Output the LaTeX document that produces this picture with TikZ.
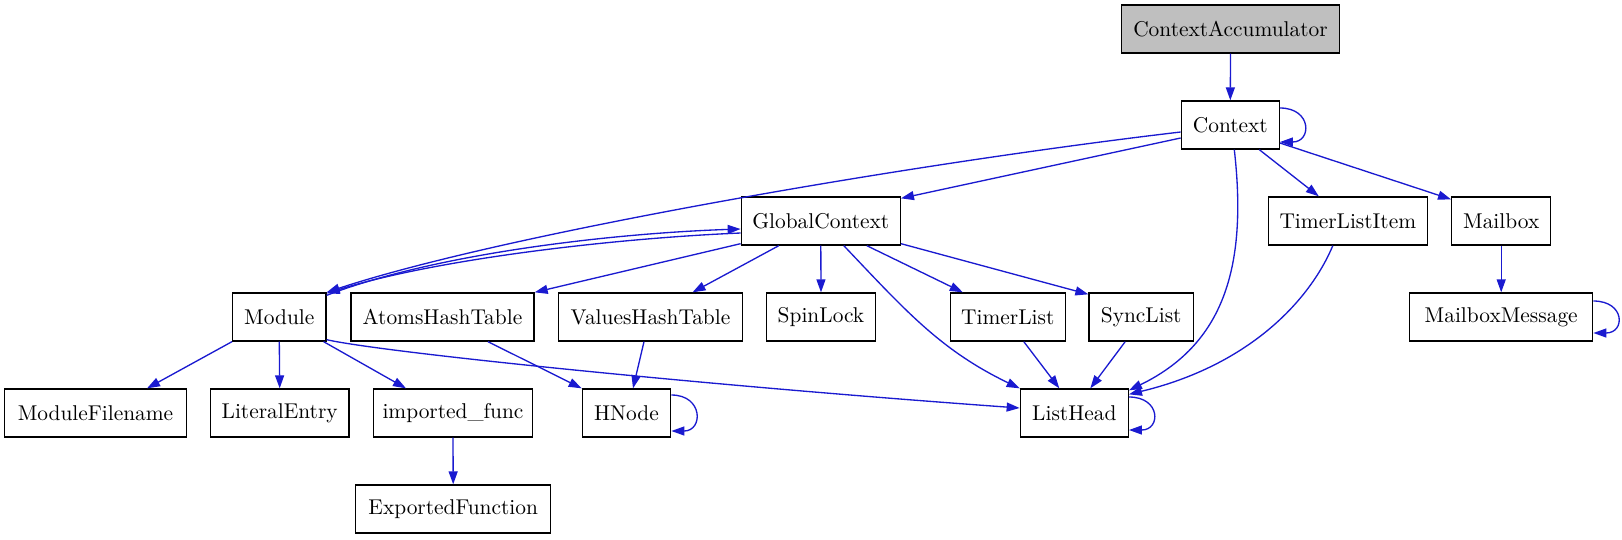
\documentclass[tikz,border=0pt]{standalone}
\usetikzlibrary{arrows.meta}
\definecolor{edgeblue}{RGB}{26,26,208}
\definecolor{fillgray}{RGB}{191,191,191}
\newcommand{\lbl}[1]{\scalebox{2.14}{#1}}
\begin{document}
\begin{tikzpicture}[x=1pt,y=-1pt,
  box/.style={draw=black,line width=1.33pt,minimum height=48pt,inner sep=0pt,font=\fontsize{10}{12}\selectfont},
  link/.style={draw=edgeblue,line width=1.33pt,-{Triangle[length=13pt,width=9pt]}},
]
\useasboundingbox (0,0) rectangle (1622,539);
% nodes
\node[box,fill=fillgray,minimum width=217.6pt] (ca) at (1230.5,29) {\lbl{ContextAccumulator}};
\node[box,minimum width=98pt] (ctx) at (1230.3,125) {\lbl{Context}};
\node[box,minimum width=159pt] (gc) at (820.8,221) {\lbl{GlobalContext}};
\node[box,minimum width=159pt] (tli) at (1347.8,221) {\lbl{TimerListItem}};
\node[box,minimum width=99pt] (mb) at (1501.2,221) {\lbl{Mailbox}};
\node[box,minimum width=93.3pt] (module) at (279.3,317) {\lbl{Module}};
\node[box,minimum width=183pt] (atoms) at (442.5,317) {\lbl{AtomsHashTable}};
\node[box,minimum width=184.4pt] (values) at (650.5,317) {\lbl{ValuesHashTable}};
\node[box,minimum width=109.4pt] (spin) at (821,317) {\lbl{SpinLock}};
\node[box,minimum width=115pt] (tl) at (1007.8,317) {\lbl{TimerList}};
\node[box,minimum width=104.3pt] (sl) at (1141.2,317) {\lbl{SyncList}};
\node[box,minimum width=183pt] (mm) at (1501.2,317) {\lbl{MailboxMessage}};
\node[box,minimum width=182.4pt] (mf) at (95.5,413) {\lbl{ModuleFilename}};
\node[box,minimum width=138.7pt] (le) at (279.7,413) {\lbl{LiteralEntry}};
\node[box,minimum width=159.4pt] (impf) at (453,413) {\lbl{imported\_func}};
\node[box,minimum width=88.4pt] (hn) at (626.5,413) {\lbl{HNode}};
\node[box,minimum width=108pt] (lh) at (1074.3,413) {\lbl{ListHead}};
\node[box,minimum width=195pt] (ef) at (453.2,509) {\lbl{ExportedFunction}};
% edges
\draw[link] (ca.south) -- (ctx.north);
\draw[link] ([yshift=17pt]ctx.east) .. controls +(32pt,0pt) and +(32pt,0pt) .. ([yshift=-17pt]ctx.east);
\draw[link] ([yshift=-13pt]ctx.west) -- ([yshift=-2pt]gc.north east);
\draw[link] ([yshift=-7pt]ctx.west) .. controls (900,165) and (500,235) .. (module.north east);
\draw[link] ([yshift=-3pt]module.north east) .. controls (440,252) and (620,233) .. ([yshift=-8pt]gc.west);
\draw[link] ([yshift=-12pt]gc.west) .. controls (620,238) and (440,258) .. ([yshift=-1pt]module.north east);
\draw[link] ([yshift=2pt]gc.south west) -- (atoms.north east);
\draw[link] ([xshift=-42pt]gc.south) -- ([xshift=42pt]values.north);
\draw[link] (gc.south) -- (spin.north);
\draw[link] ([xshift=23pt]gc.south) .. controls (905,310) and (940,350) .. (lh.north west);
\draw[link] ([xshift=46pt]gc.south) -- ([xshift=-45pt]tl.north);
\draw[link] ([yshift=2pt]gc.south east) -- ([yshift=-2pt]sl.north west);
\draw[link] ([xshift=29pt]ctx.south) -- ([xshift=-29pt]tli.north);
\draw[link] ([yshift=-18pt]ctx.east) -- ([yshift=-3pt]mb.north west);
\draw[link] ([xshift=4pt]ctx.south) .. controls (1248,270) and (1222,345) .. ([yshift=-2pt]lh.north east);
\draw[link] ([xshift=-15pt]tli.south) .. controls (1310,300) and (1250,365) .. ([yshift=-6pt]lh.north east);
\draw[link] (mb.south) -- (mm.north);
\draw[link] ([yshift=16pt]mm.east) .. controls +(32pt,0pt) and +(32pt,0pt) .. ([yshift=-16pt]mm.east);
\draw[link] (module.south west) -- ([xshift=51.5pt]mf.north);
\draw[link] (module.south) -- (le.north);
\draw[link] ([xshift=-3pt]module.south east) -- ([xshift=-47pt]impf.north);
\draw[link] ([yshift=2pt]module.south east) .. controls (380,352) and (700,385) .. ([yshift=5pt]lh.west);
\draw[link] (impf.south) -- (ef.north);
\draw[link] ([xshift=45.5pt]atoms.south) -- (hn.north west);
\draw[link] ([xshift=-6.5pt]values.south) -- ([xshift=6.5pt]hn.north);
\draw[link] ([yshift=18pt]hn.east) .. controls +(32pt,0pt) and +(32pt,0pt) .. ([yshift=-18pt]hn.east);
\draw[link] ([xshift=16pt]tl.south) -- ([xshift=-15pt]lh.north);
\draw[link] ([xshift=-16pt]sl.south) -- ([xshift=16pt]lh.north);
\draw[link] ([yshift=16pt]lh.east) .. controls +(32pt,0pt) and +(32pt,0pt) .. ([yshift=-17pt]lh.east);
\end{tikzpicture}
\end{document}
